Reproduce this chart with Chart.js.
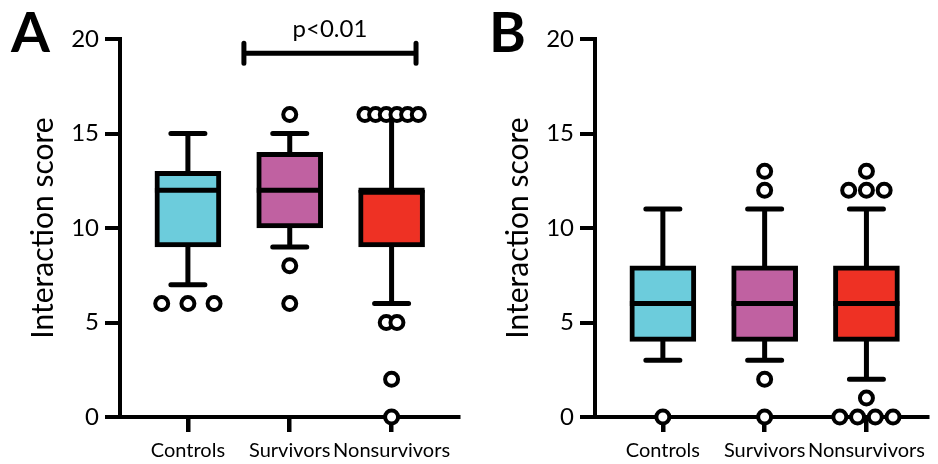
<!DOCTYPE html>
<html>
<head>
<meta charset="utf-8">
<script src="https://cdn.jsdelivr.net/npm/chart.js@4.4.0/dist/chart.umd.min.js"></script>
<style>
  body { margin: 0; background: #fff; }
  #wrap { position: relative; width: 938px; height: 464px; }
  canvas { position: absolute; top: 0; }
  #panelA { left: 0; }
  #panelB { left: 469px; }
</style>
</head>
<body>
<div id="wrap">
  <canvas id="panelA" width="469" height="464"></canvas>
  <canvas id="panelB" width="469" height="464"></canvas>
</div>
<script>
const groups = ['Controls', 'Survivors', 'Nonsurvivors'];

// panel A (whisker low, Q1, median, Q3, whisker high, outliers)
const aLow = [7, 9, 6];
const aQ1 = [9, 10, 9];
const aMedian = [12, 12, 12];
const aQ3 = [13, 14, 12];
const aHigh = [15, 15, 16];
const aOutliers = [[6, 6, 6], [16, 8, 6], [16, 16, 16, 16, 16, 16, 5, 5, 2, 0]];

// panel B
const bLow = [3, 3, 2];
const bQ1 = [4, 4, 4];
const bMedian = [6, 6, 6];
const bQ3 = [8, 8, 8];
const bHigh = [11, 11, 11];
const bOutliers = [[0], [13, 12, 2, 0], [13, 12, 12, 12, 1, 0, 0, 0, 0]];

const boxColors = ['#6CCCDC', '#C061A1', '#EE3124'];
const FONT = 'Lato, "Open Sans", sans-serif';

// spread equal values side by side (pixel gap per group)
function spread(values, gapPx) {
  const counts = {}, seen = {};
  values.forEach(v => counts[v] = (counts[v] || 0) + 1);
  return values.map(v => {
    seen[v] = seen[v] === undefined ? 0 : seen[v] + 1;
    return (seen[v] - (counts[v] - 1) / 2) * gapPx / 105;
  });
}

const boxParts = {
  id: 'boxParts',
  beforeDatasetsDraw(chart, args, o) {
    const { ctx, scales: { x, y } } = chart;
    ctx.save();
    ctx.strokeStyle = '#000';
    ctx.lineWidth = 5;
    ctx.lineCap = 'round';
    o.low.forEach((lo, i) => {
      const px = x.getPixelForValue(i);
      ctx.beginPath();
      ctx.moveTo(px, y.getPixelForValue(lo));
      ctx.lineTo(px, y.getPixelForValue(o.high[i]));
      [lo, o.high[i]].forEach(v => {
        const py = y.getPixelForValue(v);
        ctx.moveTo(px - 17, py);
        ctx.lineTo(px + 17, py);
      });
      ctx.stroke();
    });
    ctx.restore();
  },
  afterDatasetDraw(chart, args, o) {
    if (args.meta.type !== 'bar') return;
    const { ctx, scales: { x, y } } = chart;
    ctx.save();
    ctx.strokeStyle = '#000';
    ctx.lineWidth = 5;
    o.median.forEach((m, i) => {
      const px = x.getPixelForValue(i);
      const py = y.getPixelForValue(m);
      ctx.beginPath();
      ctx.moveTo(px - 33, py);
      ctx.lineTo(px + 33, py);
      ctx.stroke();
    });
    ctx.restore();
  },
  afterDraw(chart, args, o) {
    const { ctx, scales: { x, y } } = chart;
    ctx.save();
    ctx.fillStyle = '#000';
    ctx.font = 'bold 56px ' + FONT;
    ctx.textAlign = 'left';
    ctx.textBaseline = 'alphabetic';
    ctx.fillText(o.letter, o.letterX, 52);
    if (o.bracket) {
      const b = o.bracket;
      const x1 = x.getPixelForValue(b.from), x2 = x.getPixelForValue(b.to);
      const py = y.getPixelForValue(b.y);
      ctx.strokeStyle = '#000';
      ctx.lineWidth = 5;
      ctx.lineCap = 'round';
      ctx.beginPath();
      ctx.moveTo(x1, py); ctx.lineTo(x2, py);
      ctx.moveTo(x1, py - 10); ctx.lineTo(x1, py + 10);
      ctx.moveTo(x2, py - 10); ctx.lineTo(x2, py + 10);
      ctx.stroke();
      ctx.font = '24px ' + FONT;
      ctx.textAlign = 'center';
      ctx.fillText(b.label, (x1 + x2) / 2, py - 16);
    }
    ctx.restore();
  }
};

function makeChart(id, st, cfg) {
  const points = [];
  st.outliers.forEach((vals, i) => {
    const off = spread(vals, cfg.gaps[i]);
    vals.forEach((v, k) => points.push({ x: i + off[k], y: v }));
  });
  const boxes = st.q1.map((q, i) => ({ x: i, y: [q, st.q3[i]] }));

  return new Chart(document.getElementById(id), {
    type: 'bar',
    data: {
      datasets: [{
        type: 'scatter',
        data: points,
        pointRadius: 6.5,
        pointBorderWidth: 4,
        pointBorderColor: '#000',
        pointBackgroundColor: '#fff',
        clip: false
      }, {
        type: 'bar',
        data: boxes,
        backgroundColor: boxColors,
        borderColor: '#000',
        borderWidth: 5,
        borderSkipped: false,
        barThickness: 66
      }]
    },
    options: {
      responsive: false,
      animation: false,
      layout: { padding: { top: 39, right: 0, bottom: 0, left: 0 } },
      plugins: {
        legend: { display: false },
        tooltip: { enabled: false },
        boxParts: {
          low: st.low, high: st.high, median: st.median,
          letter: cfg.letter, letterX: cfg.letterX, bracket: cfg.bracket
        }
      },
      scales: {
        x: {
          type: 'linear',
          offset: false,
          min: -0.6667,
          max: cfg.xMax,
          afterBuildTicks: s => { s.ticks = [0, 1, 2].map(v => ({ value: v })); },
          afterFit: s => { s.height = 47; },
          ticks: {
            callback: v => groups[v],
            color: '#000',
            font: { family: FONT, size: 20 },
            padding: 7,
            maxRotation: 0,
            autoSkip: false
          },
          grid: { offset: false, drawOnChartArea: false, tickLength: 15, color: '#000', lineWidth: 4.5 },
          border: { color: '#000', width: 4 }
        },
        y: {
          min: 0,
          max: 20,
          afterFit: s => { s.width = cfg.axisLeft; },
          ticks: {
            stepSize: 5,
            color: '#000',
            font: { family: FONT, size: 24 },
            padding: 6
          },
          grid: { drawOnChartArea: false, tickLength: 15, color: '#000', lineWidth: 4 },
          border: { color: '#000', width: 4 },
          title: {
            display: true,
            text: 'Interaction score',
            color: '#000',
            font: { family: FONT, size: 30 },
            padding: { top: cfg.titlePad, bottom: 0 }
          }
        }
      }
    },
    plugins: [boxParts]
  });
}

makeChart('panelA',
  { low: aLow, q1: aQ1, median: aMedian, q3: aQ3, high: aHigh, outliers: aOutliers },
  { letter: 'A', letterX: 11, axisLeft: 120, xMax: 2.657, titlePad: 25, gaps: [27, 0, 11],
    bracket: { from: 0.55, to: 2.24, y: 19.25, label: 'p<0.01' } });

makeChart('panelB',
  { low: bLow, q1: bQ1, median: bMedian, q3: bQ3, high: bHigh, outliers: bOutliers },
  { letter: 'B', letterX: 20, axisLeft: 126, xMax: 2.6, titlePad: 31, gaps: [0, 0, 18.3] });
</script>
</body>
</html>
